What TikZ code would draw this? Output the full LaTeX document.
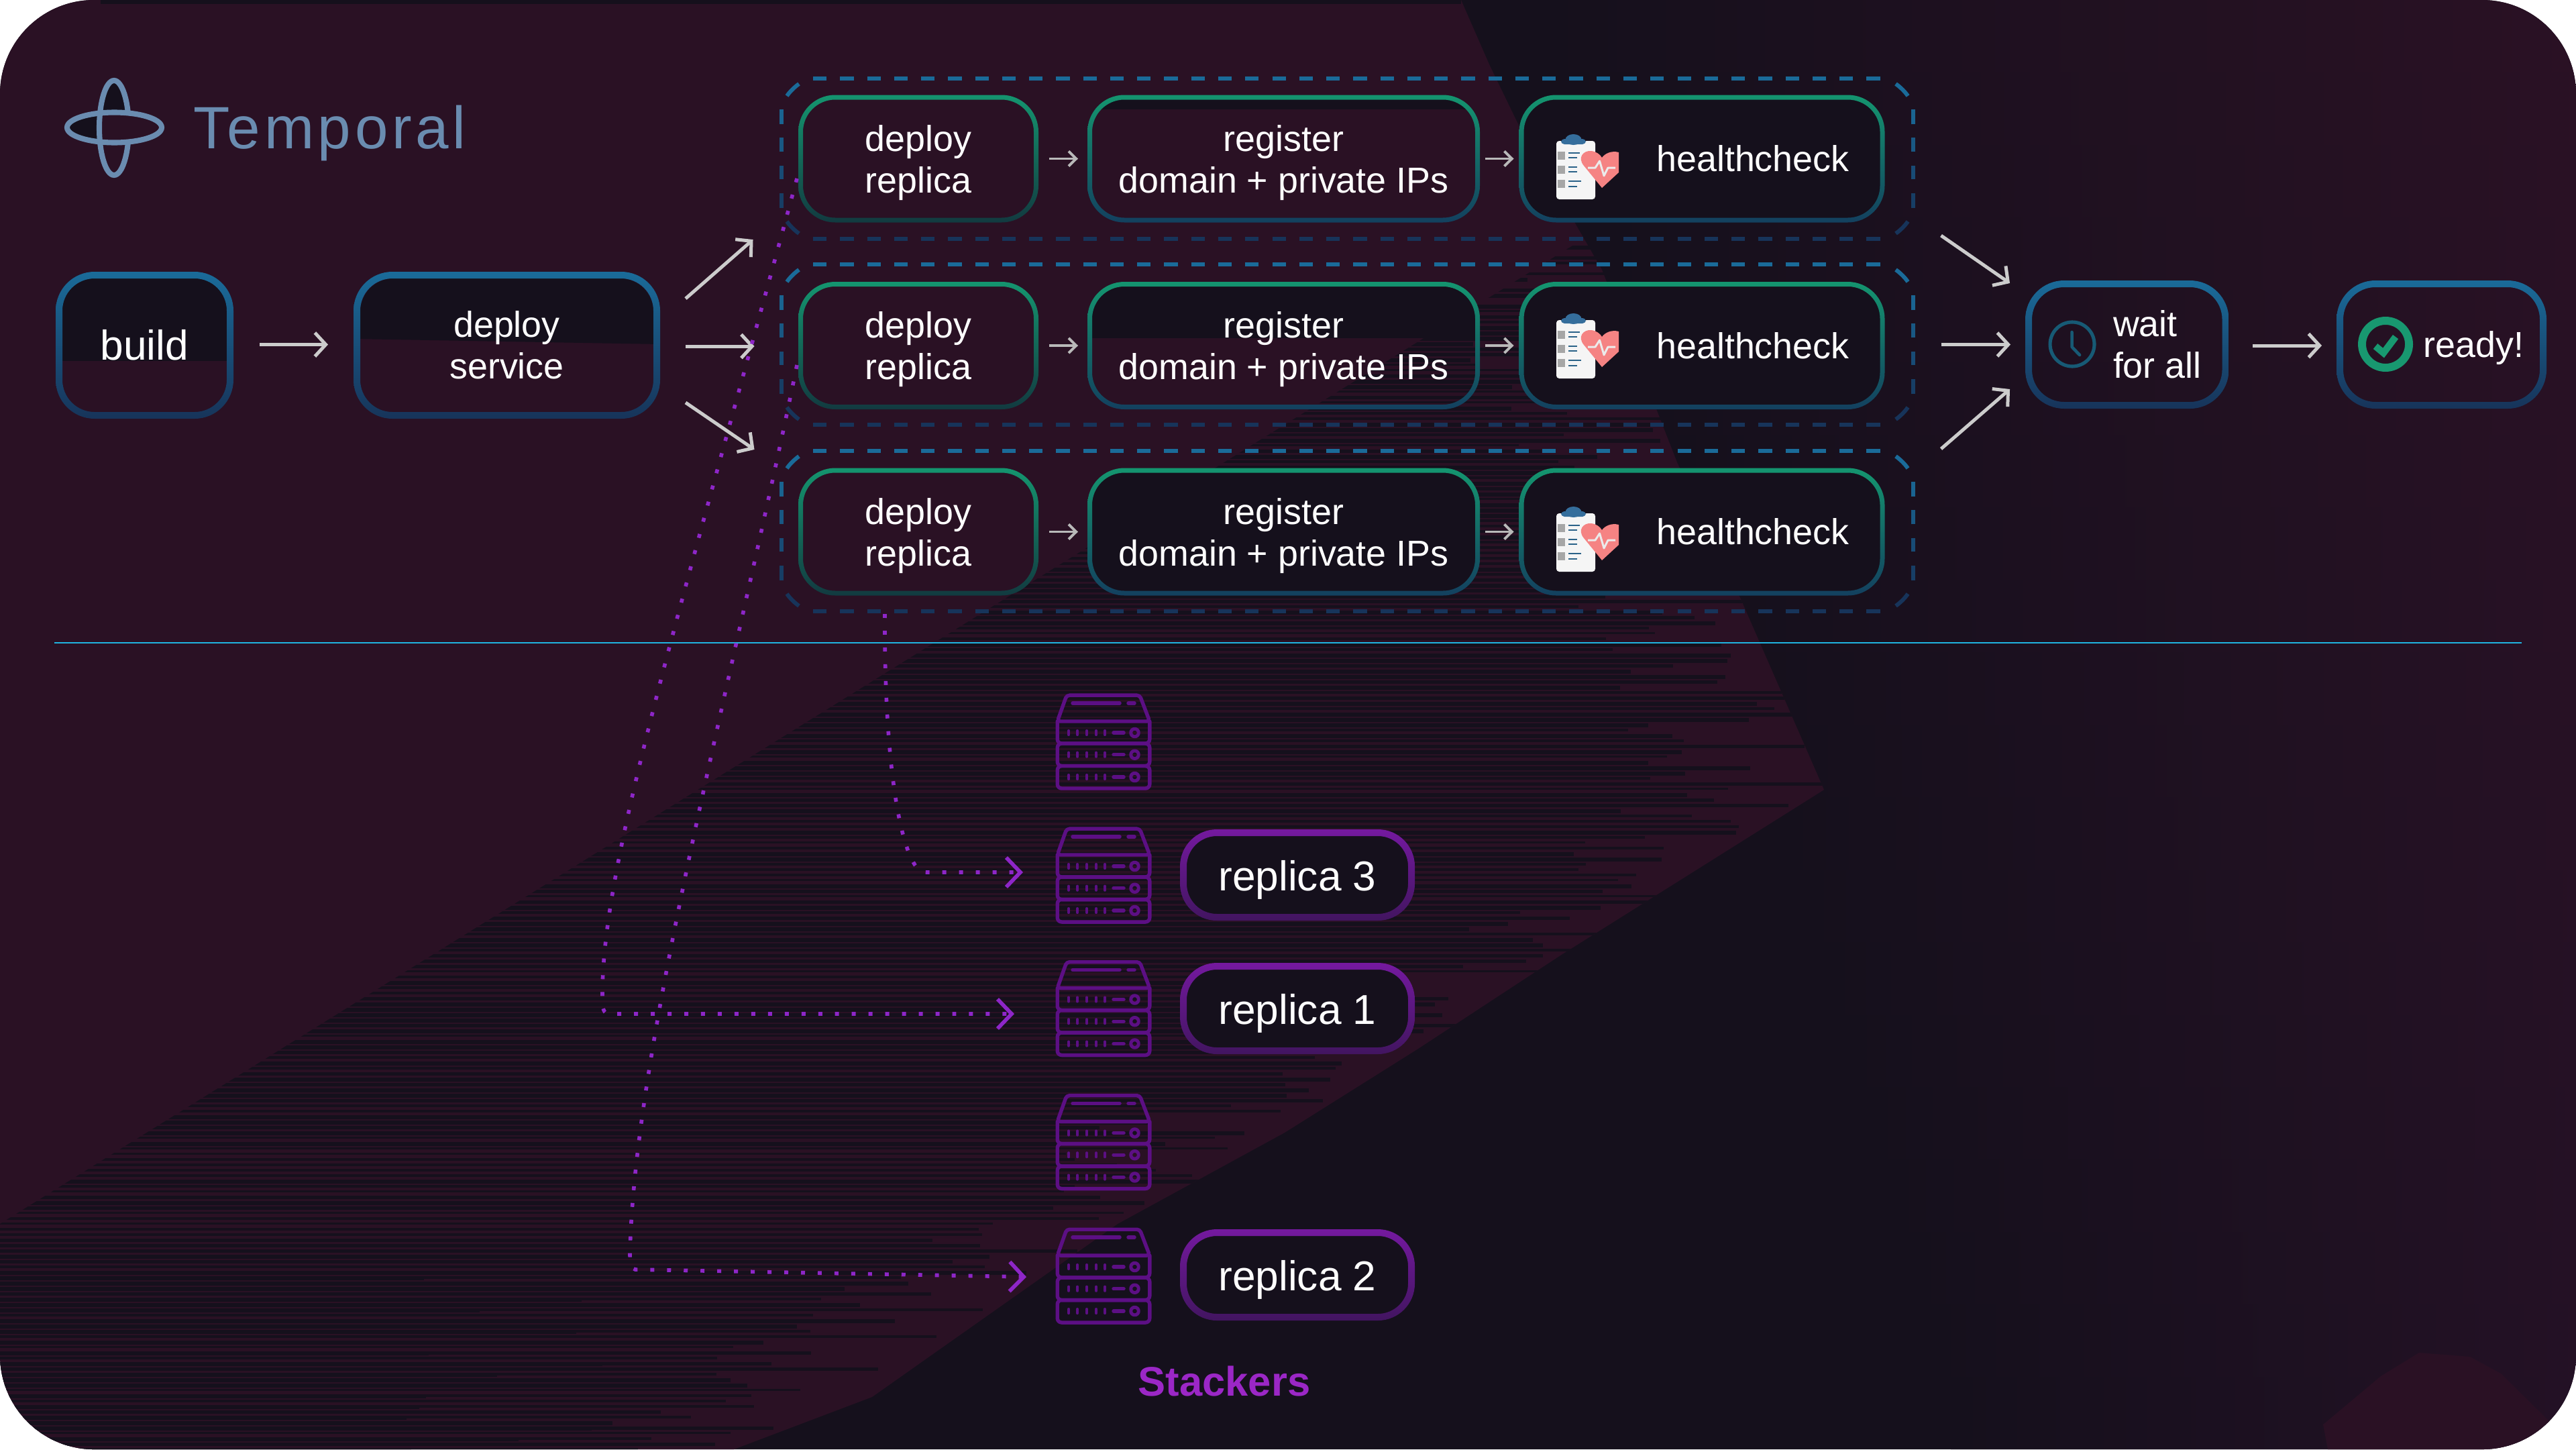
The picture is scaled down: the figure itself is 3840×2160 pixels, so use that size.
\documentclass[tikz,border=0pt]{standalone}
\usepackage{fontspec}
\setmainfont{Liberation Sans}
\newfontfamily\logofont[LetterSpace=6.4]{Liberation Sans}
\usetikzlibrary{calc,arrows.meta}
\definecolor{plum}{HTML}{2A1124}
\definecolor{plumb}{HTML}{231125}
\definecolor{dk}{HTML}{15101C}
\definecolor{gblue}{HTML}{1A6B99}
\definecolor{gnavy}{HTML}{17345A}
\definecolor{ggreen}{HTML}{14956F}
\definecolor{gteal}{HTML}{123A40}
\definecolor{gsea}{HTML}{13405F}
\definecolor{gpurp}{HTML}{74199F}
\definecolor{gpurd}{HTML}{421560}
\definecolor{srvc}{HTML}{5C0F84}
\definecolor{dotc}{HTML}{8E26C8}
\definecolor{stk}{HTML}{9B27C6}
\definecolor{logoc}{HTML}{6A8CB0}
\definecolor{arrc}{HTML}{CCCCCC}
\definecolor{arrs}{HTML}{B9B9B9}
\definecolor{sepc}{HTML}{20B4E0}
\definecolor{heartc}{HTML}{F58383}
\definecolor{clipc}{HTML}{356E9C}
\definecolor{rowc}{HTML}{2A6288}
\definecolor{checkc}{HTML}{189870}
\definecolor{clockc}{HTML}{175A75}
\tikzset{
  boxnode/.style={rectangle,inner sep=0pt,outer sep=0pt,align=center,text=white,font=\fontsize{15.3}{17.6}\selectfont},
  bignode/.style={boxnode,font=\fontsize{17.7}{20}\selectfont},
  bigarr/.style={draw=arrc,line width=1.42pt,-{Straight Barb[length=4.6pt,width=10pt]}},
  smallarr/.style={draw=arrs,line width=1.1pt,-{Straight Barb[length=3.2pt,width=6.3pt]}},
  dotpath/.style={draw=dotc,line width=1.6pt,dash pattern=on 1.7pt off 5.4pt,-{Straight Barb[length=6pt,width=12.5pt]}},
  srvline/.style={draw=srvc,line width=1.55pt,line cap=round,line join=round},
  grpdash/.style={line width=1.7pt,dash pattern=on 5.75pt off 5.7pt},
  grpnode/.style={rectangle,inner sep=0pt,outer sep=0pt,minimum width=16.87cm,minimum height=2.39cm},
}
\newcommand\dn[2]{\raisebox{-#1}[\height][\depth]{#2}}
\newcommand\twol[3]{\dn{#1}{\begin{tabular}{@{}c@{}}#2\\#3\end{tabular}}}
% gradient ring kinds
\def\setblue{\def\gr{58}\def\gs{10}\def\gtop{gblue}\def\gbot{gnavy}}
\def\setgreenA{\def\gr{55}\def\gs{7}\def\gtop{ggreen}\def\gbot{gteal}}
\def\setgreenB{\def\gr{55}\def\gs{7}\def\gtop{ggreen}\def\gbot{gsea}}
\def\setpurple{\def\gr{55}\def\gs{10}\def\gtop{gpurp}\def\gbot{gpurd}}
% \gbox{name}{cx}{cy}{w}{h}{kind}{node style}{text}
\newcommand\gbox[8]{%
  \csname set#6\endcsname
  \node[#7,minimum width=#4*0.01cm,minimum height=#5*0.01cm] (#1) at (#2,#3) {#8};
  \pgfmathsetmacro\grin{\gr-\gs}
  \shade[top color=\gtop,bottom color=\gbot,even odd rule]
    [rounded corners=\gr*0.01cm] (#1.north west) rectangle (#1.south east)
    [rounded corners=\grin*0.01cm] ($(#1.north west)+(\gs,\gs)$) rectangle ($(#1.south east)+(-\gs,-\gs)$);
}
% \dashgroup{name}{top y}
\newcommand\dashgroup[2]{%
  \begin{scope}[shift={(0,#2)}]
    \node[grpnode] (#1) at (2008.5,119.5) {};
    \draw[grpdash,gblue] (1212,0) -- (2804,0);
    \draw[grpdash,gnavy] (1212,239) -- (2804,239);
    \foreach \ya/\yb/\pc in {46/68/88,88/109/65,130/150/42,171/193/18}{
      \draw[line width=1.7pt,gblue!\pc!gnavy] (1165,\ya) -- (1165,\yb);
      \draw[line width=1.7pt,gblue!\pc!gnavy] (2852,\ya) -- (2852,\yb);
    }
    \draw[line width=1.7pt,gblue] (1191,8) .. controls (1184,13) and (1177,20) .. (1173,26);
    \draw[line width=1.7pt,gblue] (2826,8) .. controls (2833,13) and (2840,20) .. (2844,26);
    \draw[line width=1.7pt,gnavy] (1191,231) .. controls (1184,226) and (1177,219) .. (1173,213);
    \draw[line width=1.7pt,gnavy] (2826,231) .. controls (2833,226) and (2840,219) .. (2844,213);
  \end{scope}
}
% \hcicon{row shift}
\newcommand\hcicon[1]{%
  \begin{scope}[shift={(0,#1)}]
    \fill[white!96!black,rounded corners=1.2pt] (2320,210) -- (2378,210) -- (2378,297) -- (2320,297) -- cycle;
    \fill[clipc,rounded corners=1.4pt] (2327,207) rectangle (2364,215);
    \fill[clipc] (2345.5,208) ellipse (12 and 8);
    \foreach \yy in {226,247,268}{\fill[gray!70] (2322,\yy) rectangle (2333,\yy+11.5);}
    \draw[rowc,line width=0.8pt] (2338,228)--(2355,228) (2338,235)--(2351,235)
      (2338,249)--(2351,249) (2338,256)--(2351,256) (2338,270)--(2357,270) (2338,278)--(2351,278);
    \fill[heartc] (2388,280) -- (2361,247) .. controls (2351,235) and (2360,224) .. (2372,225)
      .. controls (2380,226) and (2385,230) .. (2388,235) .. controls (2392,229) and (2402,224) .. (2413,227)
      -- (2413,257) -- cycle;
    \draw[white!92!black,line width=0.85pt,line join=round] (2367,250) -- (2378,250) -- (2384.5,240) -- (2391,262) -- (2397,250) -- (2408,250);
  \end{scope}
}
% \server{name}{center y}
\newcommand\server[2]{%
  \node[rectangle,inner sep=0pt,outer sep=0pt,minimum width=1.42cm,minimum height=1.43cm] (#1) at (1645,#2) {};
  \begin{scope}[shift={(1574,#2-71.5)}]
    \draw[srvline,rounded corners=1.2pt] (2.2,41) -- (16,2.2) -- (125,2.2) -- (139.8,41) -- cycle;
    \draw[srvline,rounded corners=1.8pt] (2.2,41) -- (2.2,74) -- (139.8,74) -- (139.8,41);
    \draw[srvline,rounded corners=1.8pt] (2.2,74) rectangle (139.8,107.5);
    \draw[srvline,rounded corners=1.8pt] (2.2,107.5) rectangle (139.8,141);
    \draw[srvline] (25,14) -- (95,14);
    \draw[srvline] (108,14) -- (117,14);
    \foreach \yc in {58,90.7,124}{
      \foreach \xc in {19,32,46,60,73}{\draw[srvline,line width=1.3pt] (\xc,\yc-2.8) -- (\xc,\yc+2.8);}
      \draw[srvline] (86,\yc) -- (101,\yc);
      \draw[srvline,line width=1.4pt] (117.5,\yc) circle (5.8);
    }
  \end{scope}
}
\begin{document}
\begin{tikzpicture}[x=0.01cm,y=-0.01cm]
\useasboundingbox (0,0) rectangle (3840,2160);
\fill[white] (0,0) rectangle (3840,2160);
\begin{scope}
  \clip[rounded corners=1.4cm] (0,0) rectangle (3840,2160);
  \fill[dk] (0,0) rectangle (3840,2160);
  % right side glow, one horizontal band at a time
  \foreach \b in {0,1,...,19}{
    \pgfmathsetmacro\yt{\b*108}
    \pgfmathsetmacro\xs{2300+\b*32}
    \pgfmathsetmacro\pc{100-\b*5}
    \colorlet{bandc}{plum!\pc!plumb}
    \shade[left color=dk,right color=bandc] (\xs,\yt) rectangle (3840,\yt+109);
  }
  \fill[plum] (0,0) -- (2178,0) -- (2220,96) -- (2266,191) -- (2388,402) -- (2500,689) -- (2595,893) -- (2719,1177)
     -- (2329,1422) -- (2114,1563) -- (1915,1688) -- (1666,1824) -- (1300,2082) -- (1094,2160) -- (0,2160) -- cycle;
  \fill[dk] (150,0) rectangle (2178,6);
  \begin{scope}
    \clip (0,1824) -- (2370,350) -- (2500,689) -- (2595,893) -- (2719,1177) -- (2329,1422) -- (2114,1563) -- (1915,1688)
       -- (1666,1824) -- (1300,2082) -- (1094,2160) -- (0,2160) -- cycle;
    \pgfmathsetseed{12}
    \foreach \yy in {350,358,...,2160}{
      \pgfmathsetmacro\xr{\yy<1177 ? 2360+(\yy-350)*0.434 : 2719-(\yy-1177)*1.653}
      \pgfmathsetmacro\xe{\xr-rnd*300+40}
      \pgfmathsetmacro\hh{3+rnd*3.5}
      \fill[dk] (0,\yy) rectangle (\xe,\yy+\hh);
    }
    \foreach \yy in {1900,1916,...,2160}{
      \pgfmathsetmacro\xe{900-rnd*300}
      \fill[dk] (0,\yy+4) rectangle (\xe,\yy+8);
    }
  \end{scope}
  \fill[plum] (3463,2123) -- (3470,2160) -- (3840,2160) -- (3801,2119) -- (3728,2047) -- (3682,2022) -- (3606,2016) -- (3549,2051) -- cycle;
\end{scope}

% logo
\begin{scope}
  \fill[dk] (170,190.5) ellipse (22 and 70.5);
  \fill[plum] (170.5,190) ellipse (70.5 and 22.5);
  \begin{scope}
    \clip (90,150) rectangle (148,230);
    \fill[dk] (170.5,190) ellipse (70.5 and 22.5);
  \end{scope}
  \fill[plum] (148,207) rectangle (170,261);
  \fill[plum] (170,212) rectangle (192,261);
  \draw[logoc,line width=2.3pt] (170.5,190) ellipse (70.5 and 22.5);
  \begin{scope}
    \clip (130,100) rectangle (170,280);
    \draw[logoc,line width=2.3pt] (170,190.5) ellipse (22 and 70.5);
  \end{scope}
  \begin{scope}
    \clip (170,100) rectangle (210,168);
    \draw[logoc,line width=2.3pt] (170,190.5) ellipse (22 and 70.5);
  \end{scope}
  \begin{scope}
    \clip (170,211) rectangle (210,280);
    \draw[logoc,line width=2.3pt] (170,190.5) ellipse (22 and 70.5);
  \end{scope}
\end{scope}
\node[anchor=base west,inner sep=0pt,text=logoc,font=\logofont\fontsize{25.3}{30}\selectfont] (logotext) at (288,221) {Temporal};

% separator
\coordinate (sepa) at (81,958);
\coordinate (sepb) at (3759,958);
\draw[sepc,line width=0.6pt] (sepa) -- (sepb);

% partial dark fills inside nodes
\begin{scope}
  \clip[rounded corners=0.5cm] (90,412) rectangle (340,617);
  \fill[dk] (83,405) rectangle (348,538);
\end{scope}
\begin{scope}
  \clip[rounded corners=0.5cm] (537,415) rectangle (974,614);
  \fill[dk] (527,405) -- (984,405) -- (984,513) -- (527,505) -- cycle;
\end{scope}
\begin{scope}
  \clip[rounded corners=0.5cm] (1625,145) rectangle (2202,328);
  \fill[dk] (1621,141) rectangle (2206,163);
\end{scope}
\begin{scope}
  \clip[rounded corners=0.5cm] (1625,424) rectangle (2202,607);
  \fill[dk] (1621,420) rectangle (2206,504);
\end{scope}
\fill[dk,rounded corners=0.5cm] (1625,702) rectangle (2202,885);
\foreach \yy in {145,424,702}{\fill[dk,rounded corners=0.5cm] (2268,\yy) rectangle (2805,\yy+183);}
\foreach \yy in {1236,1435,1832}{\fill[dk,rounded corners=0.5cm] (1765,\yy) rectangle (2103,\yy+132);}

% groups
\dashgroup{grp1}{117}
\dashgroup{grp2}{394}
\dashgroup{grp3}{672}

% main boxes
\gbox{build}{215.5}{514.5}{265}{219}{blue}{bignode}{build}
\gbox{svc}{755.5}{514.5}{457}{219}{blue}{boxnode}{\twol{2pt}{deploy}{service}}

\gbox{dep1}{1369}{236.5}{358}{190}{greenA}{boxnode}{\twol{2.1pt}{deploy}{replica}}
\gbox{reg1}{1913.5}{236.5}{585}{190}{greenB}{boxnode}{\twol{2.1pt}{register}{domain + private IPs}}
\gbox{hc1}{2537}{236.5}{545}{190}{greenB}{boxnode}{\hspace*{43.2pt}healthcheck}
\gbox{dep2}{1369}{515}{358}{190}{greenA}{boxnode}{\twol{2.1pt}{deploy}{replica}}
\gbox{reg2}{1913.5}{515}{585}{190}{greenB}{boxnode}{\twol{2.1pt}{register}{domain + private IPs}}
\gbox{hc2}{2537}{515}{545}{190}{greenB}{boxnode}{\hspace*{43.2pt}healthcheck}
\gbox{dep3}{1369}{792.5}{358}{190}{greenA}{boxnode}{\twol{2.1pt}{deploy}{replica}}
\gbox{reg3}{1913.5}{792.5}{585}{190}{greenB}{boxnode}{\twol{2.1pt}{register}{domain + private IPs}}
\gbox{hc3}{2537}{792.5}{545}{190}{greenB}{boxnode}{\hspace*{43.2pt}healthcheck}

\gbox{wait}{3170.75}{513.5}{303.5}{191}{blue}{boxnode}{\hspace*{25.6pt}\dn{2pt}{\begin{tabular}{@{}l@{}}wait\\for all\end{tabular}}}
\gbox{ready}{3639.5}{513.5}{313}{191}{blue}{boxnode}{\hspace*{27.3pt}\dn{1.4pt}{ready!}}

\hcicon{0}
\hcicon{267}
\hcicon{555}

% clock and check icons
\draw[clockc,line width=1.45pt] (3089,513) circle (33);
\draw[clockc,line width=1.3pt,line cap=round,line join=round] (3088.5,495) -- (3088.5,517) -- (3100,529);
\draw[checkc,line width=3.4pt] (3556,513) circle (35);
\draw[checkc,line width=2.9pt,line join=miter] (3541,516) -- (3553,526) -- (3571,502);

% servers
\server{srv1}{1105.5}
\server{srv2}{1304.5}
\server{srv3}{1503}
\server{srv4}{1702}
\server{srv5}{1901.5}

% replica boxes
\gbox{rep3}{1934}{1304}{350}{136}{purple}{bignode}{\dn{2pt}{replica 3}}
\gbox{rep1}{1934}{1503}{350}{136}{purple}{bignode}{\dn{2pt}{replica 1}}
\gbox{rep2}{1934}{1900}{350}{136}{purple}{bignode}{\dn{2pt}{replica 2}}

\node[inner sep=0pt,text=stk,font=\bfseries\fontsize{17.5}{20}\selectfont] (stackers) at (1825,2058) {Stackers};

% flow arrows
\draw[bigarr] ($(build.east)+(39,-1)$) -- ($(svc.west)+(-38,-1)$);
\draw[bigarr] ($(svc.east)+(38,-69.5)$) -- ($(grp1.south west)+(-42,1)$);
\draw[bigarr] ($(svc.east)+(38,1.5)$) -- ($(grp2.west)+(-40,2.5)$);
\draw[bigarr] ($(svc.east)+(38,85.5)$) -- ($(grp3.north west)+(-40,-2)$);
\draw[bigarr] ($(grp1.south east)+(41,-5)$) -- ($(wait.north west)+(-23,4)$);
\draw[bigarr] ($(grp2.east)+(41,0)$) -- ($(wait.west)+(-22,0)$);
\draw[bigarr] ($(grp3.north east)+(41,-3)$) -- ($(wait.south west)+(-23,-29)$);
\draw[bigarr] ($(wait.east)+(35.5,1.5)$) -- ($(ready.west)+(-22,1.5)$);
\foreach \r in {1,2,3}{
  \draw[smallarr] ($(dep\r.east)+(16,0)$) -- ($(reg\r.west)+(-14,0)$);
  \draw[smallarr] ($(reg\r.east)+(8,0)$) -- ($(hc\r.west)+(-8,0)$);
}

% dotted paths
\draw[dotpath] ($(dep1.west)+(-2,29.5)$) .. controls (1000,960) and (895,1300) .. (898,1491)
   .. controls (898,1503) and (900,1511) .. (908,1511) -- ($(srv3.west)+(-62,8)$);
\draw[dotpath] ($(dep2.west)+(-2,29)$) .. controls (1095,1000) and (945,1560) .. (939,1870)
   .. controls (939,1882) and (941,1892) .. (947,1892) -- ($(srv5.west)+(-44,1.5)$);
\draw[dotpath] ($(dep3.south)+(-50,27.5)$) .. controls (1318,1100) and (1335,1240) .. (1362,1286)
   .. controls (1367,1295) and (1373,1300) .. (1381,1300) -- ($(srv2.west)+(-49,-4.5)$);
\end{tikzpicture}
\end{document}
